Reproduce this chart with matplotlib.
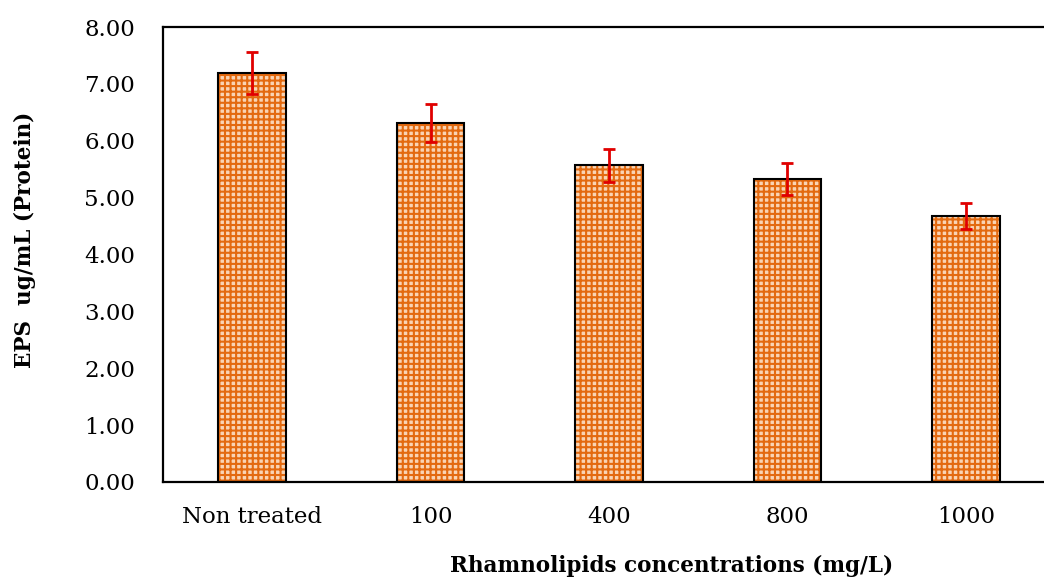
import matplotlib
matplotlib.use("Agg")
import matplotlib.pyplot as plt
import numpy as np

categories = ["Non treated", "100", "400", "800", "1000"]
values = [7.19, 6.31, 5.57, 5.32, 4.67]
errors = [0.37, 0.33, 0.29, 0.28, 0.23]
yticks = [0, 1, 2, 3, 4, 5, 6, 7, 8]

plt.rcParams['font.family'] = ['DejaVu Serif']
plt.rcParams['hatch.linewidth'] = 1.5

fig = plt.figure(figsize=(10.44, 5.81), dpi=100)
ax = fig.add_axes([163/1044, 99/581, 892/1044, 455/581])

x = np.arange(len(categories))
ax.bar(x, values, width=0.38, color='#F9D4B4', edgecolor='#E36A10',
       hatch='+++', linewidth=0, zorder=2)
ax.bar(x, values, width=0.38, fill=False, edgecolor='black', linewidth=1.5, zorder=3)
ax.errorbar(x, values, yerr=errors, fmt='none', ecolor='#E00000',
            elinewidth=2.0, capsize=4.5, capthick=2.0, zorder=4)

ax.set_xlim(-0.5, 4.5)
ax.set_ylim(0, 8)
ax.set_yticks(yticks)
ax.set_yticklabels([f"{v:.2f}" for v in yticks])
ax.set_xticks(x)
ax.set_xticklabels(categories)
ax.tick_params(axis='both', length=0, labelsize=16.5)
ax.tick_params(axis='y', pad=20)
ax.tick_params(axis='x', pad=17)
for s in ax.spines.values():
    s.set_linewidth(1.6)

fig.text(25/1044, 1 - 240/581, "EPS  ug/mL (Protein)", rotation=90, fontsize=15.5,
         fontweight='bold', ha='center', va='center')
fig.text(672/1044, 1 - 566/581, "Rhamnolipids concentrations (mg/L)", fontsize=15.5,
         fontweight='bold', ha='center', va='center')

fig.savefig("out.png", dpi=100)
